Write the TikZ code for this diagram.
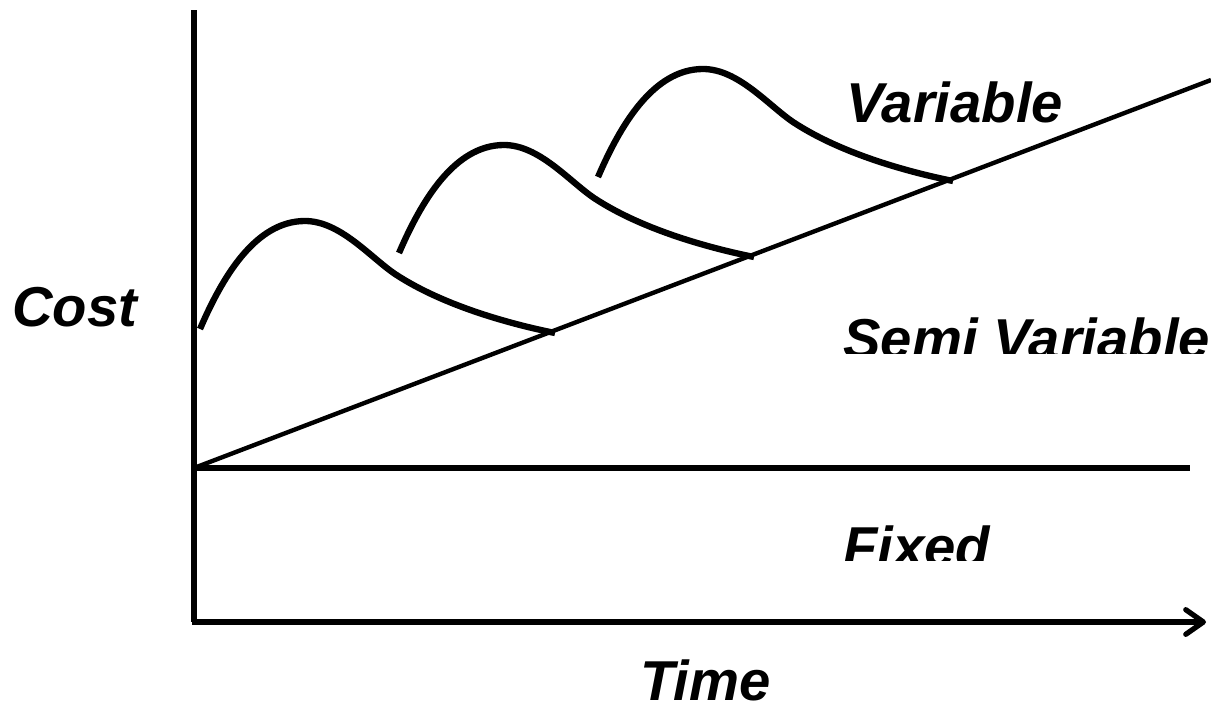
\documentclass[tikz,border=0pt]{standalone}
\usepackage{fontspec}
\setmainfont{Liberation Sans}
\usetikzlibrary{arrows.meta}
\begin{document}
\begin{tikzpicture}[x=0.02cm,y=-0.02cm,
    axis/.style={line width=3pt},
    hump/.style={line width=3.6pt},
    lbl/.style={inner sep=0pt,anchor=base west,font=\fontsize{32}{38}\selectfont\bfseries\itshape}]

        \useasboundingbox (0,0) rectangle (1211,710);

        \coordinate (ytop)   at (194,10);
        \coordinate (origin) at (194,622);
        \coordinate (xend)   at (1206,622);
        \coordinate (fixA)   at (194,468);
        \coordinate (fixB)   at (1190,468);
        \coordinate (varB)   at (1211,80);

        % axes
        \draw[axis] (ytop) -- (origin);
        \draw[axis,-{Straight Barb[length=10pt,width=14pt,round]}] (192,622) -- (xend);

        % fixed and variable lines
        \draw[axis] (fixA) -- (fixB);
        \draw[line width=2.5pt] (fixA) -- (varB);

        % semi variable humps
        \foreach \i in {0,1,2} {
          \begin{scope}[shift={(199*\i,-76*\i)}]
            \draw[hump] (200,329) .. controls (222,278) and (255,221) .. (305,221)
                                  .. controls (340,221) and (370,257) .. (395,274)
                                  .. controls (445,307) and (515,325) .. (555,333);
          \end{scope}
        }

        % labels
        \node[lbl] (cost) at (12,326) {Cost};
        \node[lbl] (time) at (640,700) {Time};
        \node[lbl] (var)  at (846,122) {Variable};

        \begin{scope}
          \clip (820,290) rectangle (1211,353);
          \node[lbl] (semi) at (843,358) {Semi Variable};
        \end{scope}

        \begin{scope}
          \clip (820,500) rectangle (1010,560);
          \node[lbl] (fixed) at (843,566) {Fixed};
        \end{scope}

      \end{tikzpicture}
\end{document}
